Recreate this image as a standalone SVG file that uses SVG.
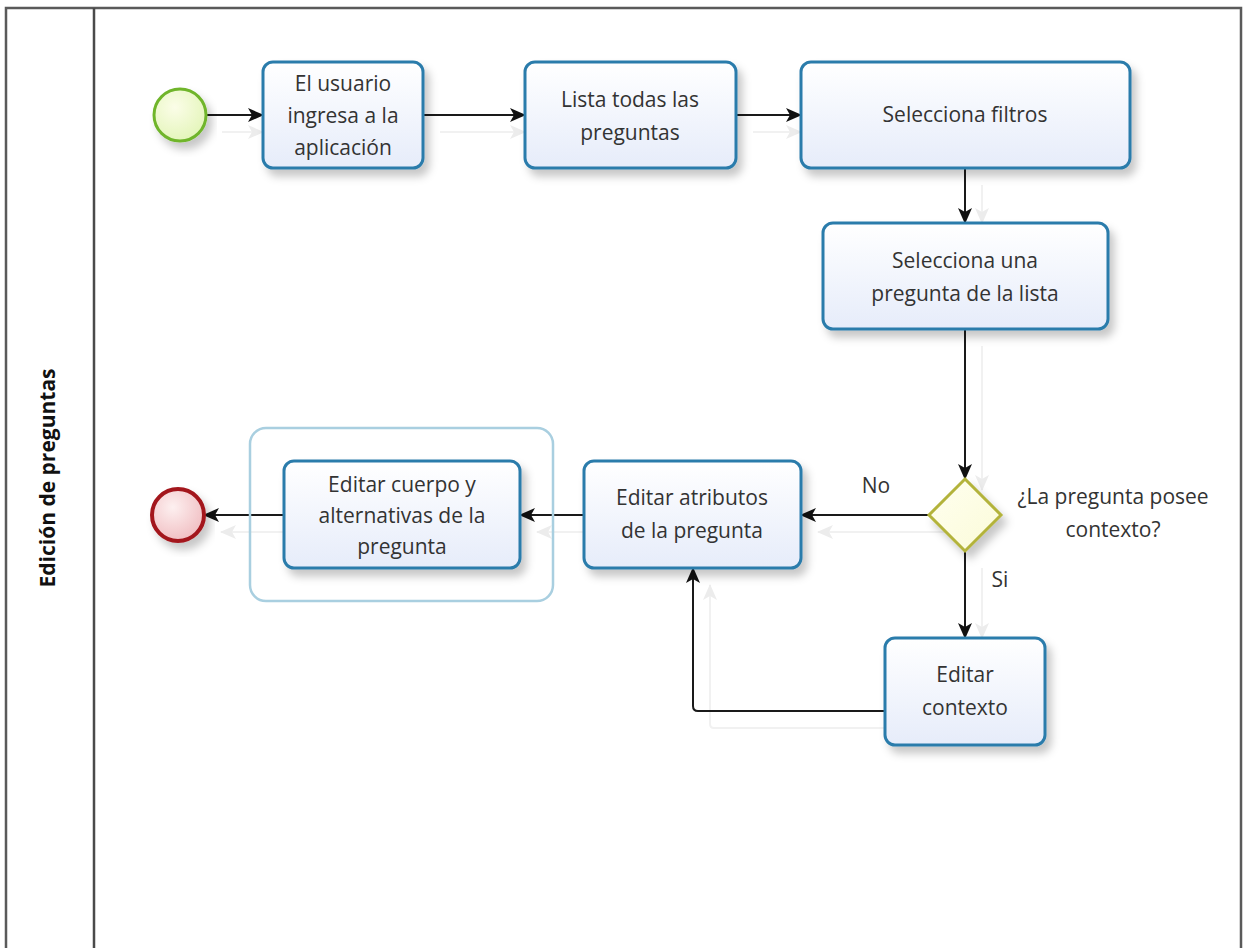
<svg xmlns="http://www.w3.org/2000/svg" width="1244" height="948" viewBox="0 0 1244 948">
  <style>
    .task { fill: url(#taskFill); stroke: #2b7bab; stroke-width: 3; filter: url(#shadow); }
    .label { font-family: "Open Sans", "Noto Sans", sans-serif; font-size: 21px; fill: #333333; text-anchor: middle; }
    .flow { fill: none; stroke: #1a1a1a; stroke-width: 2; marker-end: url(#arrow); }
    .ghost { fill: none; stroke: #f1f1f1; stroke-width: 2; marker-end: url(#ghostArrow); }
  </style>
  <defs>
    <linearGradient id="taskFill" x1="0" y1="0" x2="0" y2="1">
      <stop offset="0" stop-color="#ffffff"/>
      <stop offset="1" stop-color="#e6ecfa"/>
    </linearGradient>
    <radialGradient id="startFill" cx="0.4" cy="0.35" r="0.7">
      <stop offset="0" stop-color="#fbfde8"/>
      <stop offset="1" stop-color="#e3f5b8"/>
    </radialGradient>
    <radialGradient id="endFill" cx="0.4" cy="0.35" r="0.7">
      <stop offset="0" stop-color="#fdf0f0"/>
      <stop offset="1" stop-color="#f0bcc0"/>
    </radialGradient>
    <linearGradient id="gateFill" x1="0" y1="0" x2="1" y2="1">
      <stop offset="0" stop-color="#fffff0"/>
      <stop offset="1" stop-color="#fbfbd8"/>
    </linearGradient>
    <filter id="shadow" x="-10%" y="-10%" width="130%" height="140%">
      <feDropShadow dx="5" dy="7" stdDeviation="4" flood-color="#000000" flood-opacity="0.22"/>
    </filter>
    <marker id="arrow" viewBox="0 0 16 16" refX="15" refY="8" markerWidth="16" markerHeight="16" markerUnits="userSpaceOnUse" orient="auto">
      <path d="M0,1 L16,8 L0,15 L4,8 Z" fill="#111111"/>
    </marker>
    <marker id="ghostArrow" viewBox="0 0 16 16" refX="15" refY="8" markerWidth="16" markerHeight="16" markerUnits="userSpaceOnUse" orient="auto">
      <path d="M0,1 L16,8 L0,15 L4,8 Z" fill="#ececec"/>
    </marker>
  </defs>

  <rect width="1244" height="948" fill="#ffffff"/>

  <!-- pool with a single lane -->
  <g id="pool">
    <path d="M6,960 L6,8 L1241,8 L1241,960" fill="none" stroke="#5a5a5a" stroke-width="2.5"/>
    <line x1="94" y1="8" x2="94" y2="960" stroke="#4a4a4a" stroke-width="2.5"/>
    <text transform="translate(55,478) rotate(-90)" font-family="'Open Sans', 'Noto Sans', sans-serif" font-size="21" font-weight="bold" fill="#111111" text-anchor="middle">Edición de preguntas</text>
  </g>

  <!-- faint connector shadows -->
  <g id="connector-shadows">
    <line class="ghost" x1="222" y1="132" x2="263" y2="132"/>
    <line class="ghost" x1="440" y1="132" x2="525" y2="132"/>
    <line class="ghost" x1="753" y1="132" x2="801" y2="132"/>
    <line class="ghost" x1="982" y1="185" x2="982" y2="223"/>
    <line class="ghost" x1="982" y1="346" x2="982" y2="490"/>
    <line class="ghost" x1="946" y1="532" x2="818" y2="532"/>
    <line class="ghost" x1="982" y1="568" x2="982" y2="638"/>
    <path class="ghost" d="M885,728 L714,728 Q710,728 710,724 L710,585"/>
    <line class="ghost" x1="584" y1="532" x2="537" y2="532"/>
    <line class="ghost" x1="284" y1="532" x2="221" y2="532"/>
  </g>

  <!-- sequence flows -->
  <g id="connectors">
    <line class="flow" x1="206" y1="115" x2="263" y2="115"/>
    <line class="flow" x1="423" y1="115" x2="525" y2="115"/>
    <line class="flow" x1="736" y1="115" x2="801" y2="115"/>
    <line class="flow" x1="965" y1="168" x2="965" y2="223"/>
    <line class="flow" x1="965" y1="329" x2="965" y2="479"/>
    <line class="flow" x1="929" y1="515" x2="801" y2="515"/>
    <line class="flow" x1="965" y1="551" x2="965" y2="638"/>
    <path class="flow" d="M885,711 L698,711 Q693,711 693,706 L693,568"/>
    <line class="flow" x1="584" y1="515" x2="520" y2="515"/>
    <line class="flow" x1="284" y1="515" x2="204" y2="515"/>
    <text class="label" x="876" y="493">No</text>
    <text class="label" x="1000" y="587">Si</text>
  </g>

  <g id="start">
    <circle cx="180" cy="115" r="26" fill="url(#startFill)" stroke="#6fb52c" stroke-width="3" filter="url(#shadow)"/>
  </g>

  <g id="task-ingresa">
    <rect class="task" x="263" y="62" width="160" height="106" rx="10"/>
    <text class="label" x="343" y="91">El usuario</text>
    <text class="label" x="343" y="123">ingresa a la</text>
    <text class="label" x="343" y="155">aplicación</text>
  </g>

  <g id="task-lista">
    <rect class="task" x="525" y="62" width="211" height="106" rx="10"/>
    <text class="label" x="630" y="107">Lista todas las</text>
    <text class="label" x="630" y="140">preguntas</text>
  </g>

  <g id="task-filtros">
    <rect class="task" x="801" y="62" width="329" height="106" rx="10"/>
    <text class="label" x="965" y="122">Selecciona filtros</text>
  </g>

  <g id="task-selecciona">
    <rect class="task" x="823" y="223" width="285" height="106" rx="10"/>
    <text class="label" x="965" y="268">Selecciona una</text>
    <text class="label" x="965" y="301">pregunta de la lista</text>
  </g>

  <g id="gateway">
    <path d="M965,479 L1001,515 L965,551 L929,515 Z" fill="url(#gateFill)" stroke="#b3b33a" stroke-width="3" filter="url(#shadow)"/>
    <text class="label" x="1113" y="504">¿La pregunta posee</text>
    <text class="label" x="1113" y="537">contexto?</text>
  </g>

  <g id="task-atributos">
    <rect class="task" x="584" y="461" width="217" height="107" rx="10"/>
    <text class="label" x="692" y="505">Editar atributos</text>
    <text class="label" x="692" y="538">de la pregunta</text>
  </g>

  <g id="task-contexto">
    <rect class="task" x="885" y="638" width="160" height="107" rx="10"/>
    <text class="label" x="965" y="682">Editar</text>
    <text class="label" x="965" y="715">contexto</text>
  </g>

  <g id="group-cuerpo">
    <rect x="250" y="428" width="303" height="173" rx="16" fill="none" stroke="#a9cfe0" stroke-width="2.5"/>
  </g>

  <g id="task-cuerpo">
    <rect class="task" x="284" y="461" width="236" height="107" rx="10"/>
    <text class="label" x="402" y="492">Editar cuerpo y</text>
    <text class="label" x="402" y="523">alternativas de la</text>
    <text class="label" x="402" y="554">pregunta</text>
  </g>

  <g id="end">
    <circle cx="178" cy="515" r="26" fill="url(#endFill)" stroke="#a3161c" stroke-width="4" filter="url(#shadow)"/>
  </g>
</svg>
